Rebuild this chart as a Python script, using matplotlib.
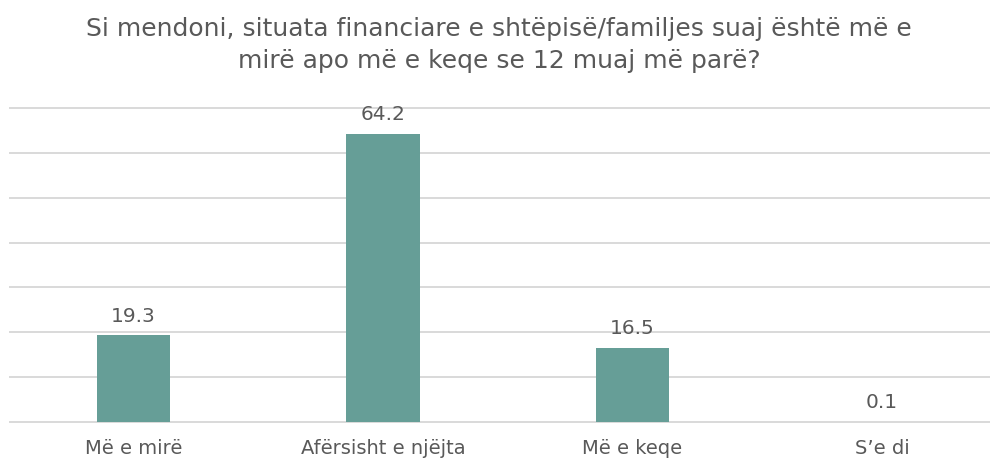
import matplotlib
matplotlib.use('Agg')
import matplotlib.pyplot as plt

plt.rcParams['font.family'] = ['DejaVu Sans']

# data
categories = ['Më e mirë', 'Afërsisht e njëjta', 'Më e keqe', 'S’e di']
values = [19.3, 64.2, 16.5, 0.1]
title = 'Si mendoni, situata financiare e shtëpisë/familjes suaj është më e\nmirë apo më e keqe se 12 muaj më parë?'

bar_color = '#669e97'
text_color = '#595959'

fig = plt.figure(figsize=(9.98, 4.65), dpi=100)
ax = fig.add_axes([9/998, 42/465, (990-9)/998, (423-107)/465])

x = list(range(len(categories)))
ax.bar(x, values, width=0.293, color=bar_color, zorder=3)
for xi, v in zip(x, values):
    ax.annotate('%.1f' % v, (xi, v), xytext=(0, 7), textcoords='offset points',
                ha='center', va='bottom', fontsize=14.5, color=text_color)

ax.set_ylim(-0.2, 70.2)
ax.set_xlim(-0.499, 3.433)
ax.set_yticks(range(0, 71, 10))
ax.yaxis.grid(True, color='#d9d9d9', linewidth=1.4, zorder=0)
ax.tick_params(axis='y', left=False, labelleft=False)
ax.tick_params(axis='x', bottom=False, labelsize=14, labelcolor=text_color, pad=8)
ax.set_xticks(x)
ax.set_xticklabels(categories)
for s in ax.spines.values():
    s.set_visible(False)

fig.text(0.5, 1 - 45/465, title, ha='center', va='center', fontsize=18,
         color=text_color, linespacing=1.45)

fig.savefig('out.png', dpi=100)
